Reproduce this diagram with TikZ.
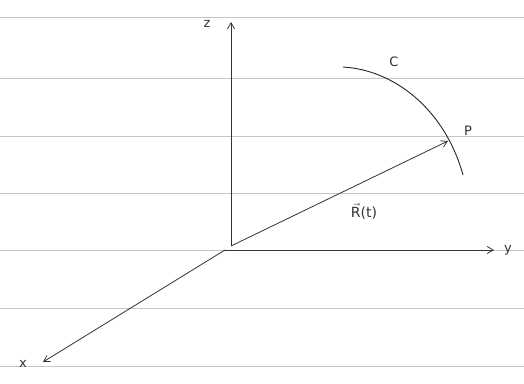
\documentclass[tikz,border=0pt]{standalone}
\usepackage{fontspec}
\setsansfont{DejaVu Sans}
\usetikzlibrary{arrows.meta}
\begin{document}
\begin{tikzpicture}[x=1pt,y=-1pt,
  paper/.style={draw=gray!45,line width=0.7pt},
  axis/.style={draw=black!80,line width=0.8pt,-{Straight Barb[length=6pt,width=7pt]}},
  curve/.style={draw=black!85,line width=0.9pt},
  lbl/.style={font=\sffamily\fontsize{13}{15}\selectfont,text=black!80,inner sep=1pt}]
\useasboundingbox (0,0) rectangle (524,383);
\fill[white] (0,0) rectangle (524,383);
% ruled paper lines
\foreach \yy in {17,78,136,193,250,308,366}
  \draw[paper] (0,\yy) -- (524,\yy);
% points
\coordinate (o) at (225,250);
\coordinate (oz) at (231,246);
\coordinate (zt) at (231,22);
\coordinate (yt) at (494,250);
\coordinate (xt) at (43,362);
\coordinate (p) at (448,141);
\coordinate (cs) at (343,67);
\coordinate (ce) at (463,175);
% axes
\draw[axis] (oz) -- (zt);
\draw[axis] (o) -- (yt);
\draw[axis] (o) -- (xt);
% position vector
\draw[axis] (oz) -- (p);
% curve C
\draw[curve] (cs) .. controls (395,70) and (445,110) .. (ce);
% labels
\node[lbl] (zl) at (207,24) {z};
\node[lbl] (yl) at (508,250) {y};
\node[lbl] (xl) at (23,364) {x};
\node[lbl] (cl) at (394,62) {C};
\node[lbl] (pl) at (468,131) {P};
\node[lbl,font=\sffamily\fontsize{14}{16}\selectfont] (rl) at (364,211) {$\vec{\mathsf{R}}$(t)};
\end{tikzpicture}
\end{document}
